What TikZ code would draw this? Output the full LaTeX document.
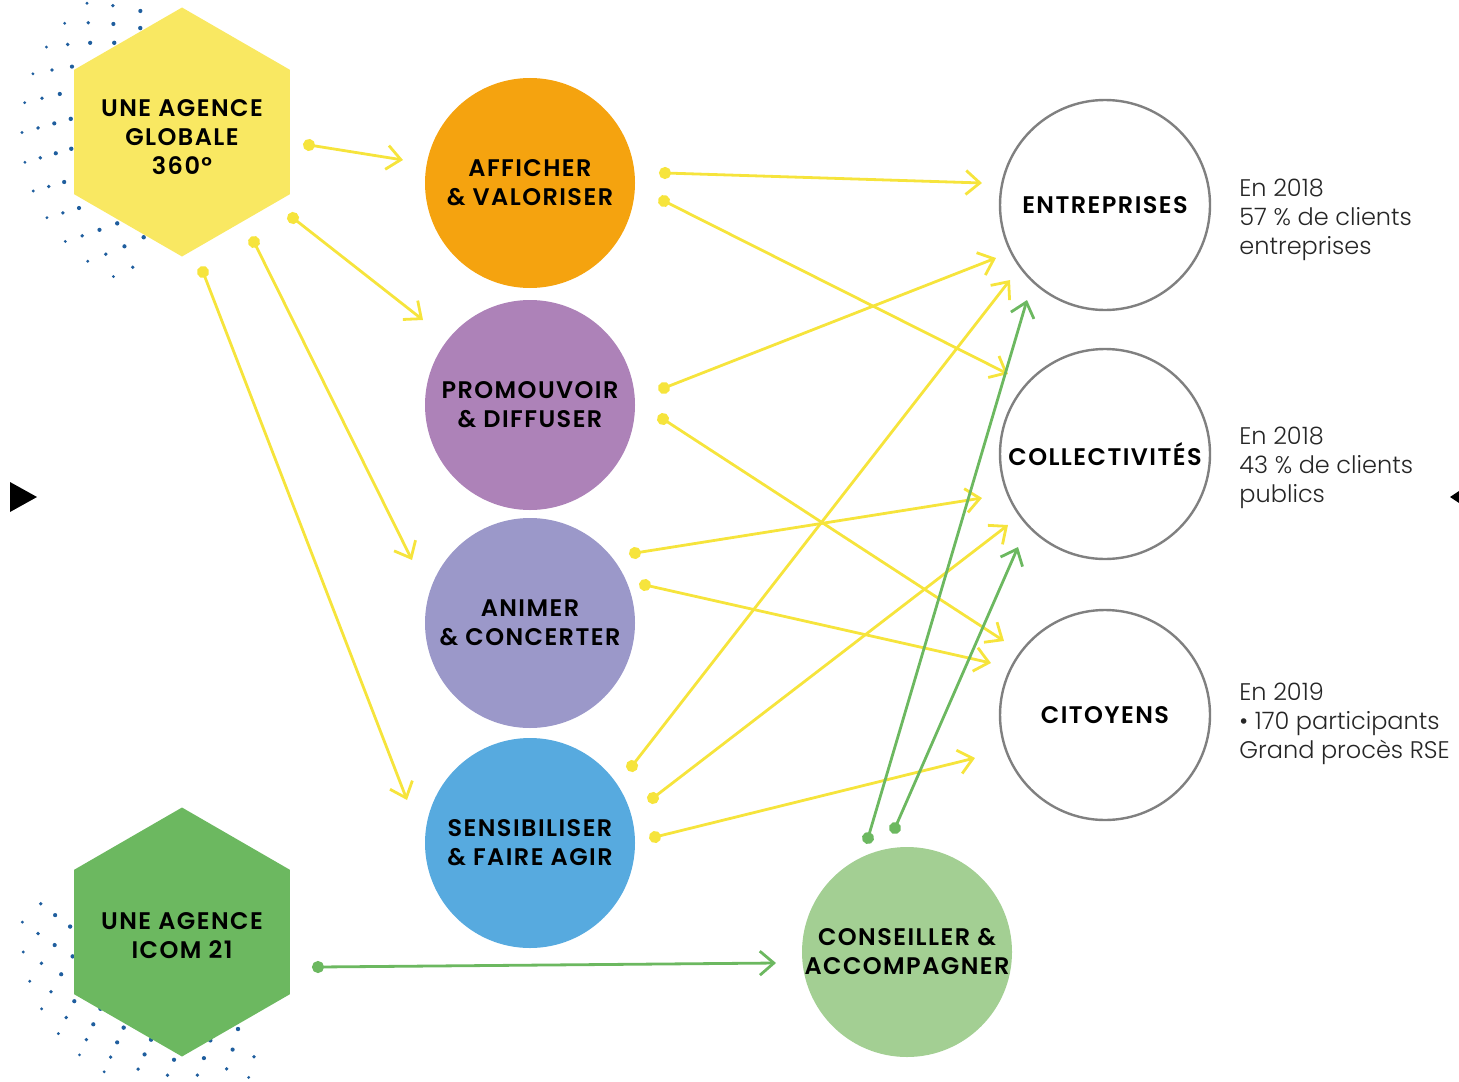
\documentclass[tikz,border=0pt]{standalone}
\usepackage{fontspec}
\setmainfont{Poppins}[BoldFont={Poppins SemiBold}, BoldFeatures={LetterSpace=6}]
\newfontfamily\lightfont{Poppins Light}
\usetikzlibrary{arrows.meta,shapes.geometric,positioning,calc}

\definecolor{hexyellow}{HTML}{F9E862}
\definecolor{hexgreen}{HTML}{6CB860}
\definecolor{lineyellow}{HTML}{F6E43C}
\definecolor{linegreen}{HTML}{6CB860}
\definecolor{orangeA}{HTML}{F5A30F}
\definecolor{purpleP}{HTML}{AD82B8}
\definecolor{lavenderA}{HTML}{9B98C9}
\definecolor{blueS}{HTML}{57AADF}
\definecolor{greenC}{HTML}{A3CF93}
\definecolor{ringgray}{HTML}{808080}
\definecolor{dotblue}{HTML}{1F5E9E}

\newcommand\labelsize{\fontsize{12}{14.5}\selectfont}

\tikzset{
  hexa/.style={regular polygon, regular polygon sides=6, shape border rotate=30,
    minimum size=124.5pt, inner sep=0pt},
  hextext/.style={align=center, font=\bfseries\labelsize, text=black},
  action/.style={circle, minimum size=105pt, inner sep=0pt, align=center,
    font=\bfseries\labelsize, text=black},
  target/.style={circle, draw=ringgray, line width=1.2pt, fill=white,
    minimum size=105pt, inner sep=0pt, align=center, font=\bfseries\labelsize},
  note/.style={align=left, anchor=west, font=\lightfont\labelsize, text=black!85, inner sep=0pt},
  ylink/.style={draw=lineyellow, line width=1.4pt,
    {Circle[length=6pt, sep=-3pt]}-{Straight Barb[length=7pt,width=12pt]}},
  glink/.style={ylink, draw=linegreen},
}

\begin{document}
\begin{tikzpicture}[x=0.5pt, y=-0.5pt]
    \useasboundingbox (0,0) rectangle (1459,1081);

    % Dotted halos behind the hexagons
    \foreach \r/\d/\o in {112/1.1/0, 128/1.05/0.5, 144/0.95/0, 160/0.8/0.5} {
        \pgfmathsetmacro\st{30/\r*57.3}
        \foreach \n in {0,...,20} {
            \pgfmathsetmacro\a{110+(\n+\o)*\st}
            \pgfmathparse{\a<=260 ? 1 : 0}
            \ifdim\pgfmathresult pt>0.5pt
                \fill[dotblue, shift={(182,132)}] (\a:\r) circle (\d pt);
            \fi
            \pgfmathsetmacro\b{60+(\n+\o)*\st}
            \pgfmathparse{\b<=192 ? 1 : 0}
            \ifdim\pgfmathresult pt>0.5pt
                \fill[dotblue, shift={(182,932)}] (\b:\r) circle (\d pt);
            \fi
        }
    }

    % Hexagons
    \node[hexa, fill=hexyellow] (globale) at (182,132) {};
    \node[hextext] (globale-txt) at ($(globale.center)+(0,5)$) {UNE AGENCE\\GLOBALE\\360°};
    \node[hexa, fill=hexgreen] (icom) at (182,932) {};
    \node[hextext] (icom-txt) at ($(icom.center)+(0,4)$) {UNE AGENCE\\ICOM 21};

    % Actions
    \node[action, fill=orangeA] (afficher) at (530,183) {AFFICHER\\\& VALORISER};
    \node[action, fill=purpleP] (promouvoir) at (530,405) {PROMOUVOIR\\\& DIFFUSER};
    \node[action, fill=lavenderA] (animer) at (530,623) {ANIMER\\\& CONCERTER};
    \node[action, fill=blueS] (sensibiliser) at (530,843) {SENSIBILISER\\\& FAIRE AGIR};
    \node[action, fill=greenC] (conseiller) at (907,952) {CONSEILLER \&\\ACCOMPAGNER};

    % Targets
    \node[target] (entreprises) at (1105,205) {ENTREPRISES};
    \node[target] (collectivites) at (1105,454) {COLLECTIVITÉS};
    \node[target] (citoyens) at (1105,715) {CITOYENS};

    % Notes
    \node[note] (note-ent) at (1239,220) {En 2018\\57~\% de clients\\entreprises};
    \node[note] (note-col) at (1239,468) {En 2018\\43~\% de clients\\publics};
    \node[note] (note-cit) at (1239,724) {En 2019\\\textbullet\ 170 participants\\Grand procès RSE};

    % Link ends
    \coordinate (gl-aff-s) at (309,145);  \coordinate (gl-aff-e) at (403,160);
    \coordinate (gl-pro-s) at (293,218);  \coordinate (gl-pro-e) at (423,320);
    \coordinate (gl-ani-s) at (254,242);  \coordinate (gl-ani-e) at (412,560);
    \coordinate (gl-sen-s) at (203,272);  \coordinate (gl-sen-e) at (407,800);
    \coordinate (aff-ent-s) at (665,173); \coordinate (aff-ent-e) at (982,183);
    \coordinate (aff-col-s) at (664,201); \coordinate (aff-col-e) at (1008,374);
    \coordinate (pro-ent-s) at (664,388); \coordinate (pro-ent-e) at (996,258);
    \coordinate (pro-cit-s) at (663,419); \coordinate (pro-cit-e) at (1004,641);
    \coordinate (ani-col-s) at (635,553); \coordinate (ani-col-e) at (982,498);
    \coordinate (ani-cit-s) at (645,585); \coordinate (ani-cit-e) at (991,663);
    \coordinate (sen-ent-s) at (632,766); \coordinate (sen-ent-e) at (1010,280);
    \coordinate (sen-col-s) at (653,798); \coordinate (sen-col-e) at (1008,525);
    \coordinate (sen-cit-s) at (655,837); \coordinate (sen-cit-e) at (975,758);
    \coordinate (con-ent-s) at (868,838); \coordinate (con-ent-e) at (1027,300);
    \coordinate (con-col-s) at (895,828); \coordinate (con-col-e) at (1018,547);
    \coordinate (ic-con-s) at (318,967);  \coordinate (ic-con-e) at (776,963);

    % Yellow links
    \draw[ylink] (gl-aff-s) -- (gl-aff-e);
    \draw[ylink] (gl-pro-s) -- (gl-pro-e);
    \draw[ylink] (gl-ani-s) -- (gl-ani-e);
    \draw[ylink] (gl-sen-s) -- (gl-sen-e);
    \draw[ylink] (aff-ent-s) -- (aff-ent-e);
    \draw[ylink] (aff-col-s) -- (aff-col-e);
    \draw[ylink] (pro-ent-s) -- (pro-ent-e);
    \draw[ylink] (pro-cit-s) -- (pro-cit-e);
    \draw[ylink] (ani-col-s) -- (ani-col-e);
    \draw[ylink] (ani-cit-s) -- (ani-cit-e);
    \draw[ylink] (sen-ent-s) -- (sen-ent-e);
    \draw[ylink] (sen-col-s) -- (sen-col-e);
    \draw[ylink] (sen-cit-s) -- (sen-cit-e);

    % Green links
    \draw[glink] (con-ent-s) -- (con-ent-e);
    \draw[glink] (con-col-s) -- (con-col-e);
    \draw[glink] (ic-con-s) -- (ic-con-e);

    % Page markers
    \fill[black] (10,482) -- (37,497) -- (10,512) -- cycle;
    \fill[black] (1459,491) -- (1450,497) -- (1459,503) -- cycle;
\end{tikzpicture}
\end{document}
